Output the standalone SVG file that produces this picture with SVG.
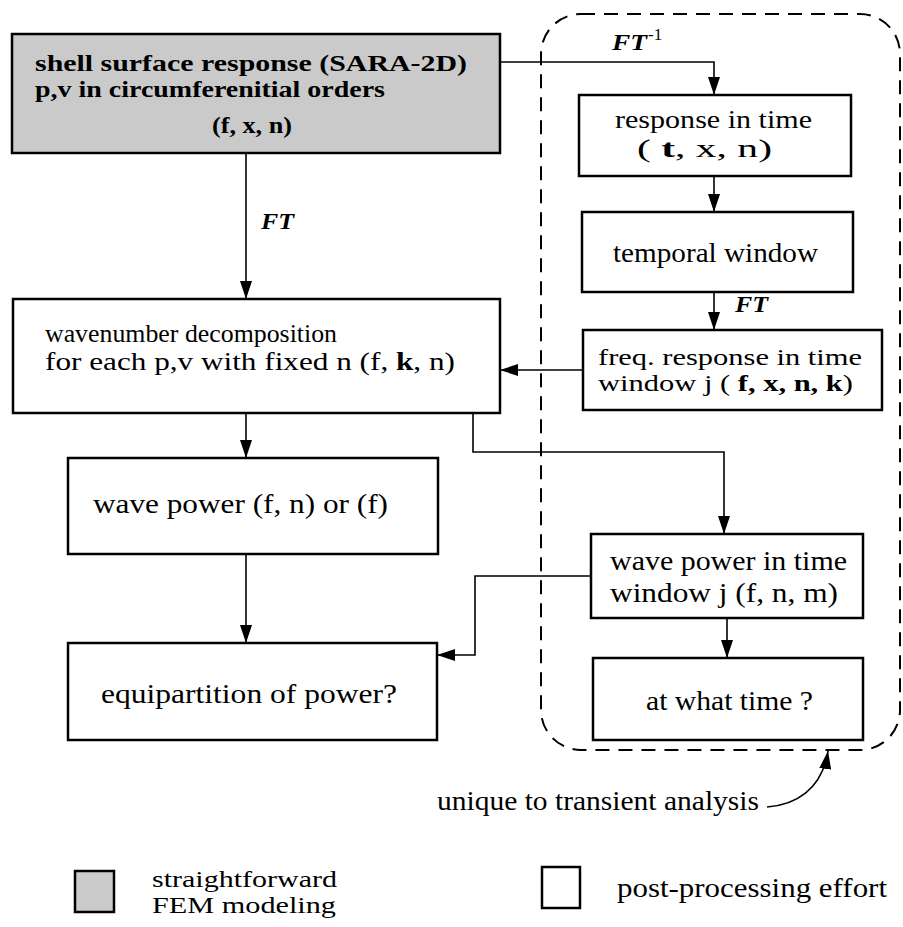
<svg xmlns="http://www.w3.org/2000/svg" width="903" height="927" viewBox="0 0 903 927" font-family="Liberation Serif">
<style>
.box{fill:#fff;stroke:#000;stroke-width:2.5}
.shade{fill:#cacaca;stroke:#000;stroke-width:2.5}
.t{font-size:26px;fill:#000}
.big{font-size:27px}
.tight{font-size:24px}
.b{font-weight:bold}
.ft{font-size:24px;font-weight:bold;font-style:italic;fill:#000}
.c{fill:none;stroke:#000;stroke-width:1.6}
.dash{fill:none;stroke:#000;stroke-width:2;stroke-dasharray:14 9}
</style>
<defs>
<marker id="ah" markerUnits="userSpaceOnUse" markerWidth="18" markerHeight="12" refX="18" refY="6" orient="auto" viewBox="0 0 18 12">
<path d="M0,0 L18,6 L0,12 z" fill="#000"/>
</marker>
</defs>
<rect id="transient-region" class="dash" x="541" y="14" width="359" height="736" rx="40" ry="40"/>
<g id="shell">
<rect class="shade" x="12" y="34" width="488" height="119"/>
<text class="t tight b" x="35" y="71" textLength="432" lengthAdjust="spacingAndGlyphs">shell surface response  (SARA-2D)</text>
<text class="t tight b" x="35" y="97" textLength="350" lengthAdjust="spacingAndGlyphs">p,v in circumferenitial orders</text>
<text class="t tight b" x="212" y="133" textLength="80" lengthAdjust="spacingAndGlyphs">(f, x, n)</text>
</g>
<g id="response-time">
<rect class="box" x="579" y="95" width="272" height="81"/>
<text class="t" x="615" y="128" textLength="197" lengthAdjust="spacingAndGlyphs">response in time</text>
<text class="t" x="637" y="157" textLength="135" lengthAdjust="spacingAndGlyphs">( <tspan class="b">t</tspan>, x, n)</text>
</g>
<g id="temporal-window">
<rect class="box" x="582" y="212" width="271" height="80"/>
<text class="t big" x="613" y="262" textLength="205" lengthAdjust="spacingAndGlyphs">temporal window</text>
</g>
<g id="freq-response">
<rect class="box" x="583" y="330" width="299" height="80"/>
<text class="t tight" x="598" y="365" textLength="264" lengthAdjust="spacingAndGlyphs">freq. response in time</text>
<text class="t tight" x="598" y="391" textLength="255" lengthAdjust="spacingAndGlyphs">window j (  <tspan class="b">f, x, n, k</tspan>)</text>
</g>
<g id="wavenumber">
<rect class="box" x="13" y="299" width="487" height="114"/>
<text class="t" x="45" y="342" textLength="292" lengthAdjust="spacingAndGlyphs">wavenumber decomposition</text>
<text class="t" x="45" y="370" textLength="410" lengthAdjust="spacingAndGlyphs">for each p,v with fixed n  (f, <tspan class="b">k</tspan>, n)</text>
</g>
<g id="wave-power">
<rect class="box" x="68" y="458" width="370" height="96"/>
<text class="t big" x="93" y="513" textLength="295" lengthAdjust="spacingAndGlyphs">wave power  (f, n)  or (f)</text>
</g>
<g id="wave-power-time">
<rect class="box" x="591" y="534" width="272" height="84"/>
<text class="t big" x="610" y="570" textLength="237" lengthAdjust="spacingAndGlyphs">wave power in time</text>
<text class="t big" x="610" y="602" textLength="228" lengthAdjust="spacingAndGlyphs">window  j  (f, n, m)</text>
</g>
<g id="equipartition">
<rect class="box" x="68" y="643" width="369" height="97"/>
<text class="t big" x="101" y="703" textLength="296" lengthAdjust="spacingAndGlyphs">equipartition of  power?</text>
</g>
<g id="what-time">
<rect class="box" x="593" y="658" width="270" height="82"/>
<text class="t big" x="646" y="710" textLength="167" lengthAdjust="spacingAndGlyphs">at what time ?</text>
</g>
<g id="connectors">
<path class="c" d="M500,62 H714 V95" marker-end="url(#ah)"/>
<path class="c" d="M246,153 V299" marker-end="url(#ah)"/>
<path class="c" d="M714,176 V212" marker-end="url(#ah)"/>
<path class="c" d="M714,292 V330" marker-end="url(#ah)"/>
<path class="c" d="M583,370 H500" marker-end="url(#ah)"/>
<path class="c" d="M246,413 V458" marker-end="url(#ah)"/>
<path class="c" d="M473,413 V452 H724 V534" marker-end="url(#ah)"/>
<path class="c" d="M246,554 V643" marker-end="url(#ah)"/>
<path class="c" d="M591,576 H475 V655 H437" marker-end="url(#ah)"/>
<path class="c" d="M727,618 V658" marker-end="url(#ah)"/>
<path class="c" d="M767,807 C795,805 822,790 828,751" marker-end="url(#ah)"/>
</g>
<g id="labels">
<text class="ft" x="612" y="50" textLength="35" lengthAdjust="spacingAndGlyphs">FT</text>
<text x="648" y="40" font-size="17">-1</text>
<text class="ft" x="261" y="229" textLength="33" lengthAdjust="spacingAndGlyphs">FT</text>
<text class="ft" x="735" y="312" textLength="33" lengthAdjust="spacingAndGlyphs">FT</text>
<text class="t big" x="437" y="810" textLength="322" lengthAdjust="spacingAndGlyphs">unique to transient analysis</text>
</g>
<g id="legend-fem">
<rect class="shade" x="75" y="871" width="39" height="41"/>
<text class="t tight" x="152" y="887" textLength="185" lengthAdjust="spacingAndGlyphs">straightforward</text>
<text class="t tight" x="152" y="913" textLength="184" lengthAdjust="spacingAndGlyphs">FEM modeling</text>
</g>
<g id="legend-post">
<rect class="box" x="542" y="867" width="38" height="41"/>
<text class="t big" x="617" y="897" textLength="270" lengthAdjust="spacingAndGlyphs">post-processing effort</text>
</g>
</svg>
